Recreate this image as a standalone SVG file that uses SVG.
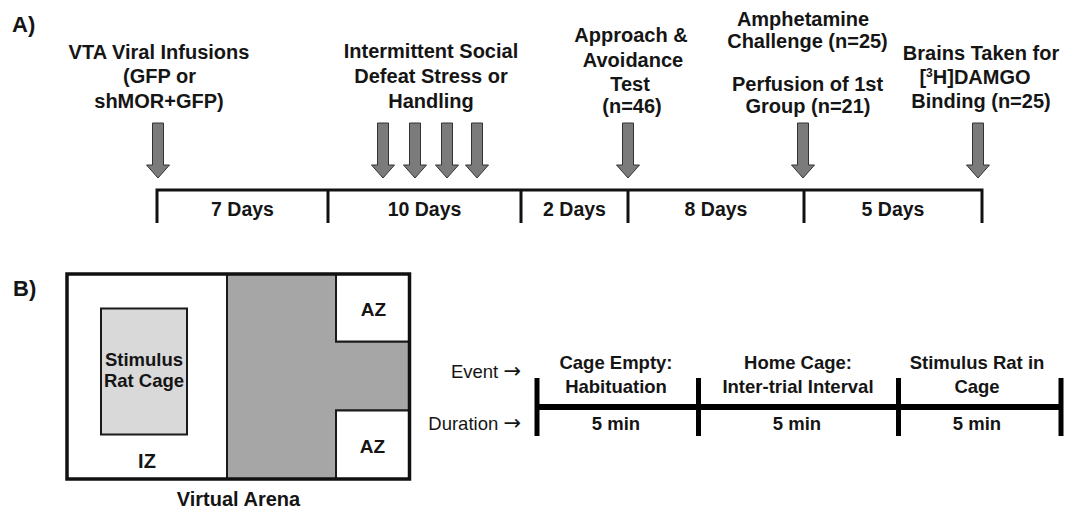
<svg xmlns="http://www.w3.org/2000/svg" width="1069" height="514" viewBox="0 0 1069 514">
<style>
text{font-family:"Liberation Sans",Arial,sans-serif;font-weight:bold;fill:#151515;text-anchor:middle}
.lbl{font-size:20px}
.day{font-size:19.5px}
.panel{font-size:22px;text-anchor:start}
.b{font-size:18.5px}
.reg{font-size:18.5px;font-weight:normal;text-anchor:end}
.ar{font-family:"DejaVu Sans",sans-serif;font-size:21px}
.cage{font-size:18.5px}
.az{font-size:19px}
.tl{stroke:#111;stroke-width:3;fill:none}
.tlb{stroke:#000;fill:none}
.arr{fill:#7b7b7b;stroke:#333;stroke-width:1}
.zone{stroke:#1a1a1a;stroke-width:2}
</style>
<defs>
<path id="arrow" class="arr" d="M-5.5,123 H5.5 V165 H11.5 L0,178 L-11.5,165 H-5.5 Z"/>
</defs>
<rect width="1069" height="514" fill="#fff"/>

<!-- Panel A -->
<text class="panel" x="12" y="32">A)</text>

<g id="vta-infusions">
<text class="lbl" x="159" y="58.5">VTA Viral Infusions</text>
<text class="lbl" x="159.5" y="83">(GFP or</text>
<text class="lbl" x="159" y="107.5">shMOR+GFP)</text>
</g>
<g id="social-defeat">
<text class="lbl" x="431" y="58">Intermittent Social</text>
<text class="lbl" x="431" y="82.5">Defeat Stress or</text>
<text class="lbl" x="431" y="107.5">Handling</text>
</g>
<g id="approach-test">
<text class="lbl" x="631" y="41.5">Approach &amp;</text>
<text class="lbl" x="633" y="66.5">Avoidance</text>
<text class="lbl" x="630" y="90.5">Test</text>
<text class="lbl" x="632" y="113">(n=46)</text>
</g>
<g id="amphetamine">
<text class="lbl" x="803" y="26">Amphetamine</text>
<text class="lbl" x="807.5" y="48">Challenge (n=25)</text>
<text class="lbl" x="807.5" y="90.5">Perfusion of 1st</text>
<text class="lbl" x="808" y="112.5">Group (n=21)</text>
</g>
<g id="brains-taken">
<text class="lbl" x="981" y="59.5">Brains Taken for</text>
<text class="lbl" x="975" y="83.5">[<tspan font-size="12" dy="-7">3</tspan><tspan dy="7">H]DAMGO</tspan></text>
<text class="lbl" x="981" y="107.5">Binding (n=25)</text>
</g>

<g id="connectors">
<use href="#arrow" x="158" y="0"/>
<use href="#arrow" x="383" y="0"/>
<use href="#arrow" x="415" y="0"/>
<use href="#arrow" x="447" y="0"/>
<use href="#arrow" x="477" y="0"/>
<use href="#arrow" x="628" y="0"/>
<use href="#arrow" x="803" y="0"/>
<use href="#arrow" x="978" y="0"/>
</g>

<g id="timeline-a">
<path class="tl" d="M157,223 V190 H982 V223 M328,190 V223 M521,190 V223 M628,190 V223 M804,190 V223"/>
<text class="day" x="242.5" y="216">7 Days</text>
<text class="day" x="424.5" y="216">10 Days</text>
<text class="day" x="574.5" y="216">2 Days</text>
<text class="day" x="716" y="216">8 Days</text>
<text class="day" x="893" y="216">5 Days</text>
</g>

<!-- Panel B -->
<text class="panel" x="13" y="296">B)</text>

<g id="virtual-arena">
<polygon points="227,274 336,274 336,341.5 409.5,341.5 409.5,410.5 336,410.5 336,479 227,479" fill="#a6a6a6" class="zone"/>
<rect x="336" y="274" width="73.5" height="67.5" fill="#fff" class="zone"/>
<rect x="336" y="410.5" width="73.5" height="68.5" fill="#fff" class="zone"/>
<rect x="101" y="308.5" width="86" height="126" fill="#d9d9d9" class="zone"/>
<rect x="67" y="274" width="342.5" height="205" fill="none" stroke="#111" stroke-width="3.5"/>
<text class="cage" x="144" y="365.5">Stimulus</text>
<text class="cage" x="144" y="387">Rat Cage</text>
<text class="lbl" x="147" y="467.5">IZ</text>
<text class="az" x="373.5" y="316">AZ</text>
<text class="az" x="372.5" y="453">AZ</text>
<text class="lbl" x="238.5" y="505.5">Virtual Arena</text>
</g>

<g id="timeline-b">
<text class="reg" x="521" y="377.5">Event <tspan class="ar">→</tspan></text>
<text class="reg" x="521" y="430">Duration <tspan class="ar">→</tspan></text>
<path class="tlb" stroke-width="6" d="M537,407 H1061"/>
<path class="tlb" stroke-width="5" d="M537,378 V436 M698.5,378 V436 M898.5,378 V436 M1061,378 V436"/>
<text class="b" x="616" y="369">Cage Empty:</text>
<text class="b" x="616" y="393">Habituation</text>
<text class="b" x="798" y="369">Home Cage:</text>
<text class="b" x="798" y="393">Inter-trial Interval</text>
<text class="b" x="977" y="369">Stimulus Rat in</text>
<text class="b" x="977" y="393">Cage</text>
<text class="b" x="616" y="430">5 min</text>
<text class="b" x="797" y="430">5 min</text>
<text class="b" x="977" y="430">5 min</text>
</g>
</svg>
